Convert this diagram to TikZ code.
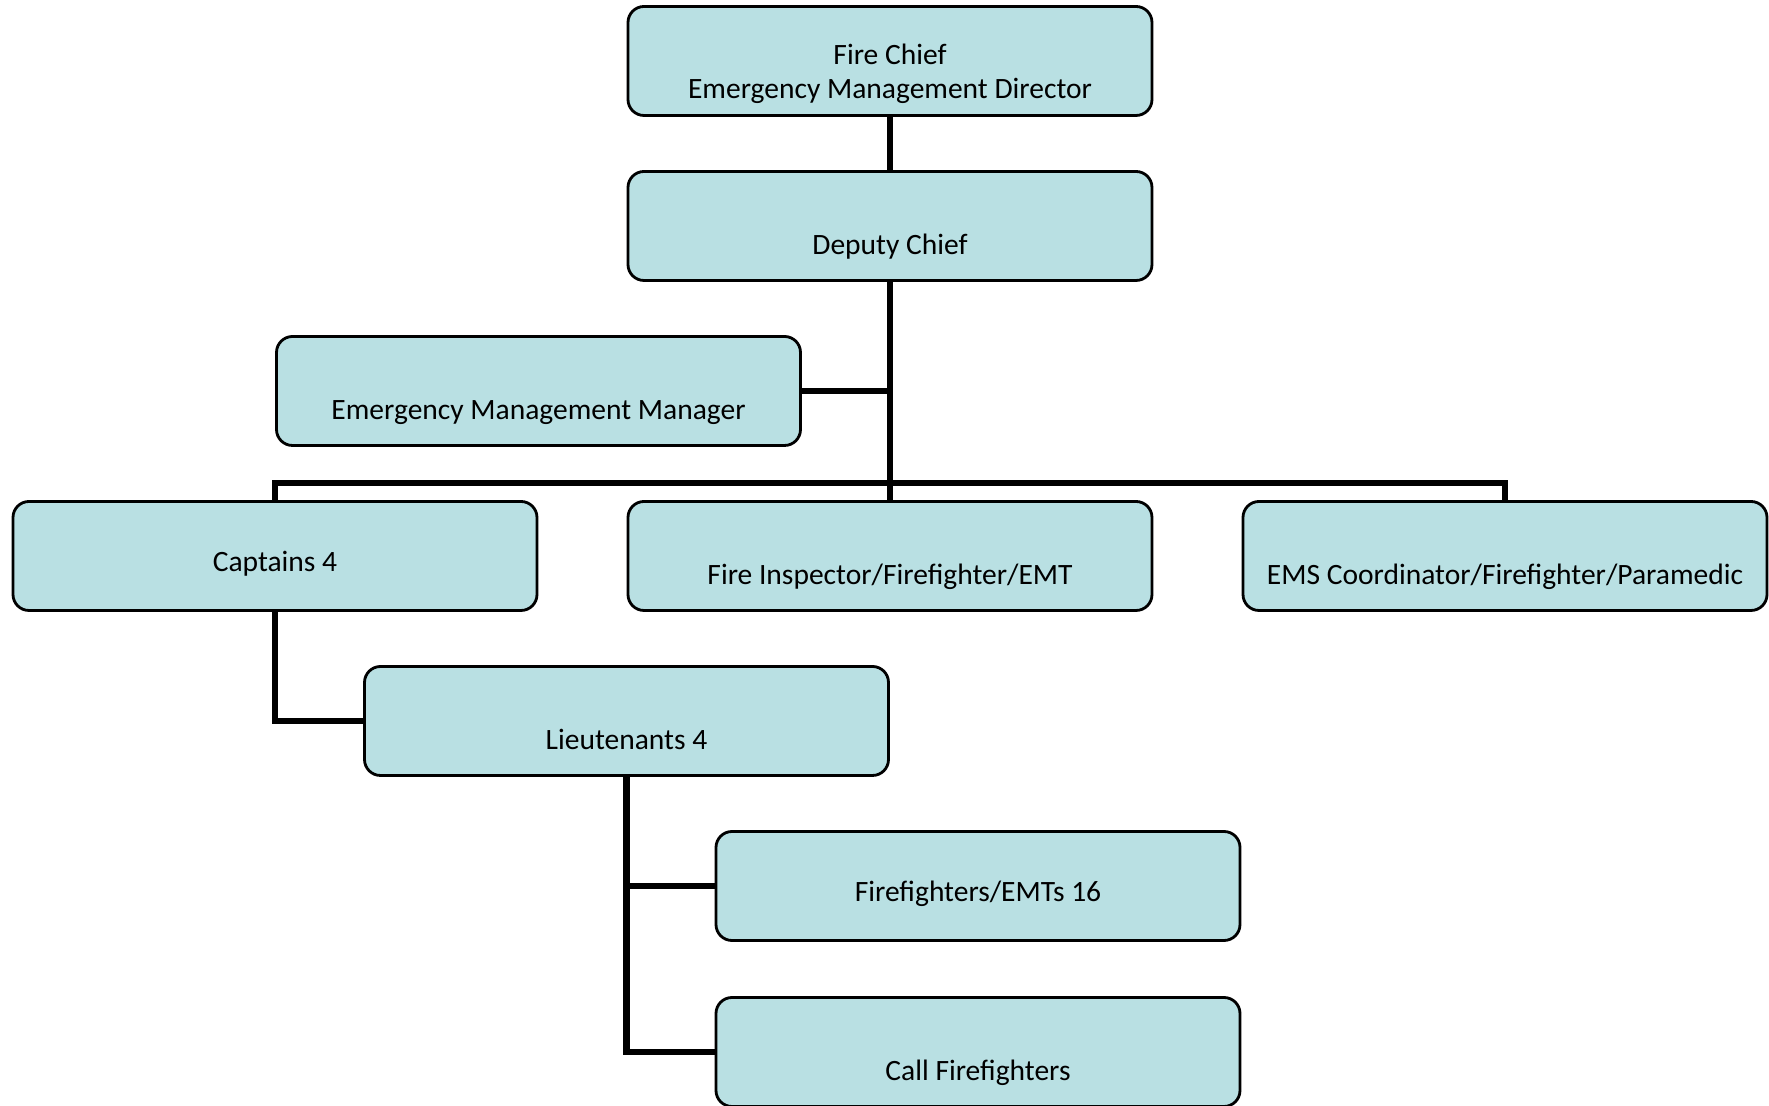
\documentclass[tikz,border=0pt]{standalone}
\usepackage{fontspec}
\setmainfont{Carlito}
\usetikzlibrary{positioning}
\definecolor{boxfill}{RGB}{185,224,227}

\begin{document}
\begin{tikzpicture}[
  orgbox/.style={draw, line width=0.8pt, fill=boxfill, rounded corners=1.6mm,
    minimum width=5.24cm, minimum height=1.09cm, align=center,
    font=\fontsize{8.4}{9.7}\selectfont},
  midtext/.style={text height=8.6pt, text depth=0pt},
  lowtext/.style={text height=16pt, text depth=0pt},
  link/.style={line width=1.8pt}
]
\useasboundingbox (0,0) rectangle (17.69,11.06);

% ---------- Top of the chart ----------
\node[orgbox] (chief) at (8.90,10.45)
  {\rule{0pt}{13pt}Fire Chief\\ Emergency Management Director};
\node[orgbox, lowtext] (deputy) at (8.90,8.80) {Deputy Chief};
\node[orgbox, lowtext] (emm) at (5.385,7.15) {Emergency Management Manager};

% ---------- Second row ----------
\node[orgbox, midtext] (captains) at (2.75,5.50) {Captains 4};
\node[orgbox, lowtext] (inspector) at (8.90,5.50) {Fire Inspector/Firefighter/EMT};
\node[orgbox, lowtext] (ems) at (15.05,5.50) {EMS Coordinator/Firefighter/Paramedic};

% ---------- Lower ranks ----------
\node[orgbox, lowtext] (lieut) at (6.265,3.85) {Lieutenants 4};
\node[orgbox, midtext] (ffemt) at (9.78,2.20) {Firefighters/EMTs 16};
\node[orgbox, lowtext] (call) at (9.78,0.54) {Call Firefighters};

% ---------- Connectors ----------
\coordinate (bus) at (8.90,6.23);
\draw[link] (chief) -- (deputy);
\draw[link] (deputy.south) -- (bus);
\draw[link] (emm.east) -- (emm.east -| deputy.south);
\draw[link] (captains.north) |- (bus) -| (ems.north);
\draw[link] (bus) -- (inspector.north);
\draw[link] (captains.south) |- (lieut.west);
\draw[link] (lieut.south) |- (ffemt.west);
\draw[link] (lieut.south) |- (call.west);

\end{tikzpicture}
\end{document}
